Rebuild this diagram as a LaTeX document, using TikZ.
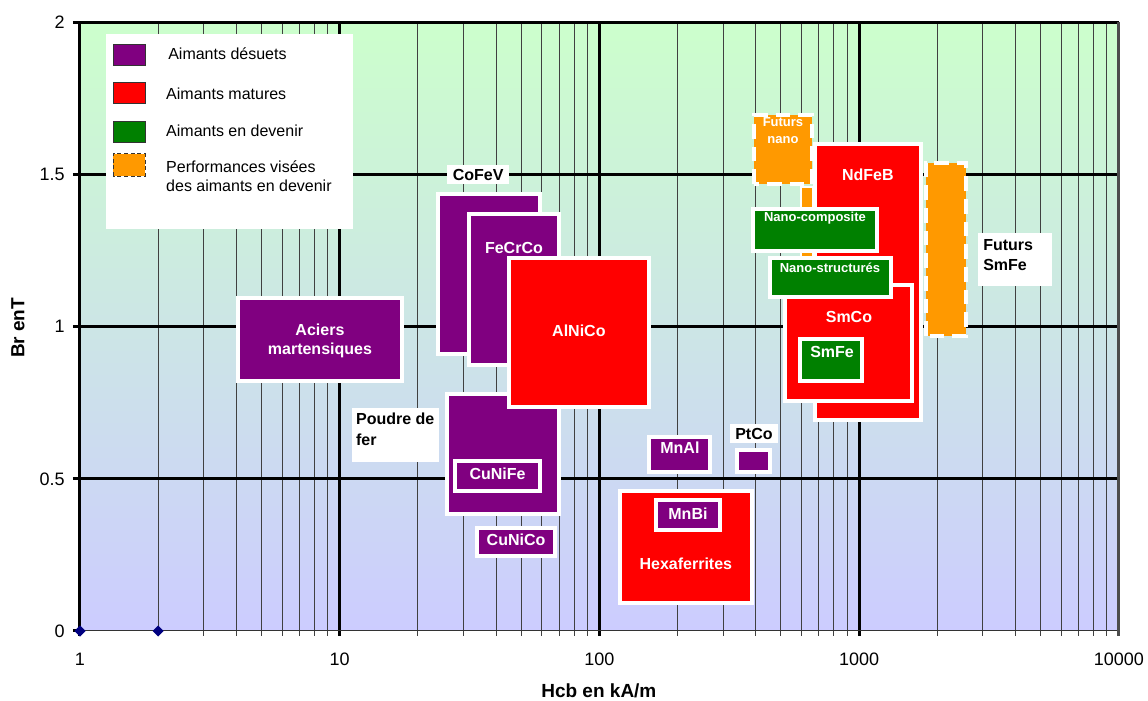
\documentclass[tikz,border=0pt]{standalone}
\usepackage{fontspec}
\setmainfont{Liberation Sans}
\usetikzlibrary{shapes.geometric}

\definecolor{desuet}{HTML}{800080}
\definecolor{mature}{HTML}{FF0000}
\definecolor{devenir}{HTML}{008000}
\definecolor{visee}{HTML}{FF9900}
\definecolor{fondhaut}{HTML}{CCFFCC}
\definecolor{fondbas}{HTML}{CCCCFF}
\definecolor{marque}{HTML}{000080}

\tikzset{
    boite/.style={line width=3pt, draw=white},
    desuetbox/.style={boite, fill=desuet},
    maturebox/.style={boite, fill=mature},
    devenirbox/.style={boite, fill=devenir},
    viseebox/.style={boite, fill=visee, dash pattern=on 11pt off 6pt},
    wlabel/.style={text=white, font=\bfseries\fontsize{12}{14}\selectfont, align=center, inner sep=0pt},
    slabel/.style={text=white, font=\bfseries\fontsize{9.75}{12.75}\selectfont, align=center, inner sep=0pt},
    blabel/.style={fill=white, font=\bfseries\fontsize{12}{15}\selectfont, align=left, inner xsep=4pt, inner ysep=3pt},
    cadre/.style={fill=white, inner sep=0pt, anchor=north west},
    btext/.style={font=\bfseries\fontsize{12}{15.5}\selectfont, align=left, inner sep=0pt, anchor=north west},
    swatch/.style={draw=black!80, line width=0.6pt},
    legtext/.style={anchor=west, inner sep=0pt, align=left, font=\fontsize{12}{14.4}\selectfont},
}

\begin{document}
\begin{tikzpicture}[x=194.78pt, y=228.23pt]

    \useasboundingbox (-0.308, -0.2268) rectangle (4.1125, 2.0736);

    % fond et grille
    \shade[top color=fondhaut, bottom color=fondbas] (0, 0) rectangle (4, 2);
    \foreach \d in {0,...,3}
        \foreach \m in {2,...,9}
            \draw[black!75, line width=0.75pt] ({\d+log10(\m)}, -0.016) -- ({\d+log10(\m)}, 2);
    \foreach \d in {1,2,3}
        \draw[line width=2.25pt] (\d, -0.016) -- (\d, 2);
    \foreach \v in {0.5,1,1.5,2}
        \draw[line width=2.25pt] (-0.027, \v) -- (4, \v);
    \draw[line width=2.25pt] (-0.027, 0) -- (0, 0);
    \draw[black!80, line width=0.75pt] (0, 0) -- (4, 0);
    \draw[line width=2.25pt] (0, -0.016) -- (0, 2);
    \draw[black!70, line width=2pt] (4, -0.016) -- (4, 2);

    % graduations
    \foreach \v in {0,0.5,1,1.5,2}
        \node[anchor=east, inner sep=0pt, font=\fontsize{13.5}{16}\selectfont] at (-0.058, \v) {\v};
    \foreach \d/\t in {0/1,1/10,2/100,3/1000,4/10000}
        \node[inner sep=0pt, font=\fontsize{13.5}{16}\selectfont] at (\d, -0.092) {\t};

    \node[rotate=90, font=\bfseries\fontsize{14.25}{17}\selectfont] (axey) at (-0.239, 0.996) {Br enT};
    \node[font=\bfseries\fontsize{14.25}{17}\selectfont] (axex) at (1.998, -0.197) {Hcb en kA/m};

    \node[diamond, fill=marque, inner sep=0pt, minimum size=8.5pt] (m1) at (0, 0) {};
    \node[diamond, fill=marque, inner sep=0pt, minimum size=8.5pt] (m2) at ({log10(2)}, 0) {};

    % legende
    \fill[white] (0.100, 1.321) rectangle (1.051, 1.962);
    \draw[swatch, fill=desuet] (0.127, 1.860) rectangle (0.250, 1.929);
    \draw[swatch, fill=mature] (0.127, 1.735) rectangle (0.250, 1.804);
    \draw[swatch, fill=devenir] (0.127, 1.604) rectangle (0.250, 1.676);
    \draw[swatch, fill=visee, dash pattern=on 3pt off 2pt] (0.127, 1.495) rectangle (0.250, 1.568);
    \node[legtext] (leg1) at (0.339, 1.896) {Aimants désuets};
    \node[legtext] (leg2) at (0.331, 1.765) {Aimants matures};
    \node[legtext] (leg3) at (0.331, 1.643) {Aimants en devenir};
    \node[legtext] (leg4) at (0.331, 1.494) {Performances visées\\des aimants en devenir};

    % aimants desuets et matures (gauche)
    \draw[desuetbox] (0.608, 0.822) rectangle (1.240, 1.094);
    \node[wlabel] (aciers) at (0.924, 0.953) {Aciers\\martensiques};

    \draw[desuetbox] (1.378, 0.910) rectangle (1.771, 1.436);
    \node[blabel] (cofev) at (1.533, 1.500) {CoFeV};
    \draw[desuetbox] (1.498, 0.874) rectangle (1.844, 1.370);
    \node[wlabel] (fecrco) at (1.671, 1.259) {FeCrCo};

    \draw[desuetbox] (1.413, 0.384) rectangle (1.844, 0.779);
    \draw[desuetbox] (1.444, 0.460) rectangle (1.771, 0.559);
    \node[wlabel] (cunife) at (1.608, 0.516) {CuNiFe};
    \node[cadre, minimum width=65.25pt, minimum height=40.5pt] (poudre) at (1.047, 0.733) {};
    \node[btext] (poudretxt) at ([xshift=3pt, yshift=-3.75pt]poudre.north west) {Poudre de\\fer};

    \draw[maturebox] (1.652, 0.736) rectangle (2.191, 1.226);
    \node[wlabel] (alnico) at (1.921, 0.986) {AlNiCo};

    \draw[desuetbox] (1.529, 0.246) rectangle (1.829, 0.338);
    \node[wlabel] (cunico) at (1.679, 0.299) {CuNiCo};

    \draw[desuetbox] (2.191, 0.523) rectangle (2.426, 0.638);
    \node[wlabel] (mnal) at (2.310, 0.601) {MnAl};

    \draw[desuetbox] (2.530, 0.523) rectangle (2.657, 0.595);
    \node[blabel] (ptco) at (2.595, 0.649) {PtCo};

    \draw[maturebox] (2.079, 0.092) rectangle (2.588, 0.460);
    \node[wlabel] (hexa) at (2.333, 0.220) {Hexaferrites};
    \draw[desuetbox] (2.218, 0.332) rectangle (2.464, 0.430);
    \node[wlabel] (mnbi) at (2.341, 0.385) {MnBi};

    % aimants en devenir (droite)
    \draw[viseebox] (2.595, 1.469) rectangle (2.819, 1.696);
    \node[slabel] (nano) at (2.707, 1.645) {Futurs\\nano};
    \draw[boite, line width=1.2pt, fill=visee] (2.776, 1.226) rectangle (2.822, 1.460);

    \draw[viseebox] (3.258, 0.969) rectangle (3.412, 1.538);
    \node[cadre, minimum width=55.5pt, minimum height=39.75pt] (futsmfe) at (3.458, 1.308) {};
    \node[btext] (futsmfetxt) at ([xshift=3.75pt, yshift=-4.5pt]futsmfe.north west) {Futurs\\SmFe};

    \draw[maturebox] (2.830, 0.693) rectangle (3.238, 1.600);
    \node[wlabel] (ndfeb) at (3.034, 1.499) {NdFeB};

    \draw[devenirbox] (2.591, 1.249) rectangle (3.069, 1.387);
    \node[slabel] (nanocomp) at (2.830, 1.357) {Nano-composite};

    \draw[maturebox] (2.715, 0.756) rectangle (3.204, 1.137);
    \node[wlabel] (smco) at (2.961, 1.032) {SmCo};

    \draw[devenirbox] (2.657, 1.098) rectangle (3.123, 1.226);
    \node[slabel] (nanostruct) at (2.888, 1.193) {Nano-structurés};

    \draw[devenirbox] (2.772, 0.822) rectangle (3.011, 0.960);
    \node[wlabel] (smfe) at (2.896, 0.917) {SmFe};

\end{tikzpicture}
\end{document}
